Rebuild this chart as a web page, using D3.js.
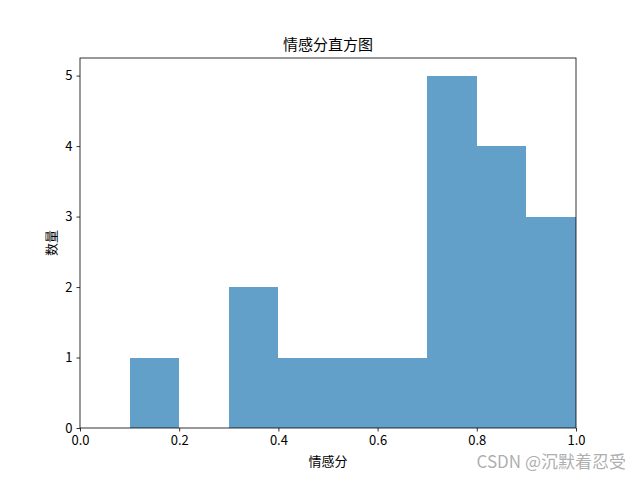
<!DOCTYPE html>
<html>
<head>
<meta charset="utf-8">
<script src="https://cdn.jsdelivr.net/npm/d3@7"></script>
<style>
  body { margin: 0; background: #fff; }
  text { font-family: "Noto Sans CJK SC", "DejaVu Sans", sans-serif; }
</style>
</head>
<body>
<svg width="640" height="480"></svg>
<script>
// histogram bins (start of bin) and counts
var binStarts = [0.0, 0.1, 0.2, 0.3, 0.4, 0.5, 0.6, 0.7, 0.8, 0.9];
var counts = [0, 1, 0, 2, 1, 1, 1, 5, 4, 3];
var binWidth = 0.1;
var xTicks = [0.0, 0.2, 0.4, 0.6, 0.8, 1.0];
var yTicks = [0, 1, 2, 3, 4, 5];

var svg = d3.select("svg"),
    margin = {top: 58, right: 64, bottom: 52, left: 80},
    width = +svg.attr("width") - margin.left - margin.right,
    height = +svg.attr("height") - margin.top - margin.bottom,
    g = svg.append("g").attr("transform", "translate(" + margin.left + "," + margin.top + ")");

var x = d3.scaleLinear().domain([0, 1]).range([0, width]);
var y = d3.scaleLinear().domain([0, d3.max(counts) * 1.05]).range([height, 0]);

g.selectAll("rect.bar")
    .data(binStarts)
    .enter().append("rect")
    .attr("class", "bar")
    .attr("x", function(d) { return x(d); })
    .attr("width", function(d) { return x(d + binWidth) - x(d); })
    .attr("y", function(d, i) { return y(counts[i]); })
    .attr("height", function(d, i) { return height - y(counts[i]); })
    .attr("shape-rendering", "crispEdges")
    .style("fill", "#1f77b4")
    .style("fill-opacity", 0.7);

var xAxis = g.append("g")
    .attr("transform", "translate(0," + height + ")")
    .call(d3.axisBottom(x).tickValues(xTicks).tickFormat(d3.format(".1f")).tickSize(3.5).tickPadding(4));

var yAxis = g.append("g")
    .call(d3.axisLeft(y).tickValues(yTicks).tickFormat(d3.format("d")).tickSize(3.5).tickPadding(4));

[xAxis, yAxis].forEach(function(a) {
    a.select(".domain").remove();
    a.selectAll("text").style("font-size", "13px").style("fill", "#000");
    a.selectAll("line").style("stroke", "#000").style("stroke-width", 0.8);
});

// frame
g.append("rect")
    .attr("width", width)
    .attr("height", height)
    .style("fill", "none")
    .style("stroke", "#000")
    .style("stroke-width", 0.8);

svg.append("text")
    .attr("x", margin.left + width / 2)
    .attr("y", margin.top - 8)
    .attr("text-anchor", "middle")
    .style("font-size", "15px")
    .text("情感分直方图");

svg.append("text")
    .attr("x", margin.left + width / 2)
    .attr("y", 466)
    .attr("text-anchor", "middle")
    .style("font-size", "13px")
    .text("情感分");

svg.append("text")
    .attr("transform", "translate(56," + (margin.top + height / 2) + ") rotate(-90)")
    .attr("text-anchor", "middle")
    .style("font-size", "13px")
    .text("数量");

// watermark
svg.append("text")
    .attr("x", 626)
    .attr("y", 468)
    .attr("text-anchor", "end")
    .style("font-size", "17px")
    .style("fill", "#999")
    .style("fill-opacity", 0.8)
    .text("CSDN @沉默着忍受");
</script>
</body>
</html>
